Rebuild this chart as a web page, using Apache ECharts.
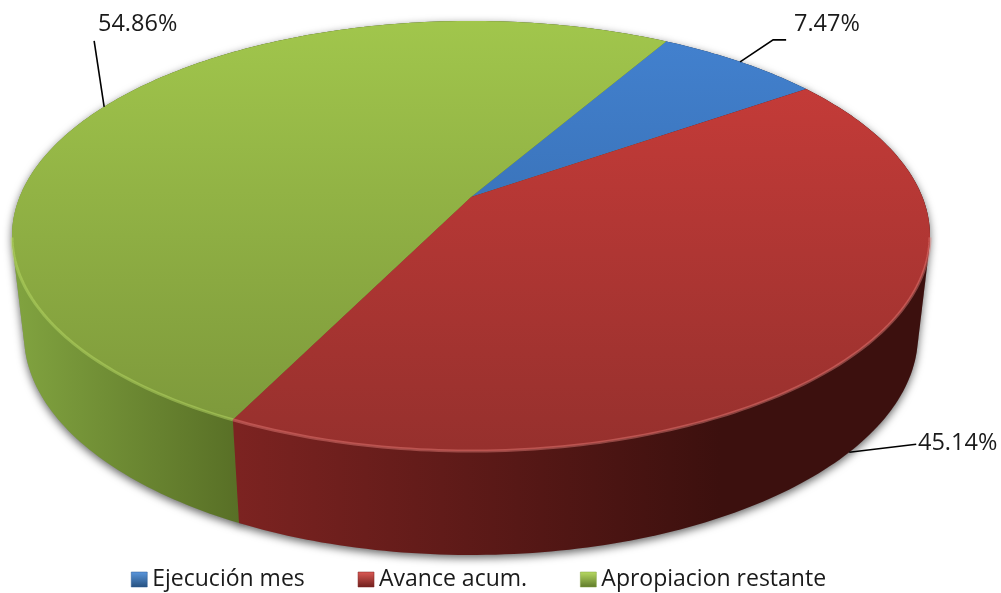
<!DOCTYPE html>
<html>
<head>
<meta charset="utf-8">
<style>
  html, body { margin: 0; padding: 0; background: #fff; }
  #pie-chart { width: 1001px; height: 593px; }
</style>
</head>
<body>
<div id="pie-chart"></div>
<script src="https://cdn.jsdelivr.net/npm/echarts@6/dist/echarts.min.js"></script>
<script>
const categories = ['Ejecución mes', 'Avance acum.', 'Apropiacion restante'];
const values = [7.47, 45.14, 54.86];

const FONT = '"Open Sans", sans-serif';
const START_DEG = 30.0;
// tilted disc: the top face and the foot of the wall are two ellipses
const topRim = { cx: 471, cy: 236, rx: 459, ry: 215 };
const footRim = { cx: 471, cy: 335, rx: 447, ry: 220 };
const TILT = 0.181; // how far the pie centre sits above the ellipse centre

const styles = [
  { top: ['#4382d0', '#2f619f'], side: ['#2b5a94', '#1d3e66'], rim: '#7fb0e8', icon: ['#5b97dd', '#25507f'] },
  { top: ['#cc3d3a', '#96302d'], side: ['#7c2321', '#3c100e'], rim: '#e8807c', icon: ['#dc5a55', '#6f1f1d'] },
  { top: ['#a1c64c', '#7b963a'], side: ['#80a23f', '#586f26'], rim: '#bfe06a', icon: ['#b7da62', '#5f7a2a'] }
];
// leader line: which rim it starts on, its elbow offsets, the text spot
const labels = [
  { rim: topRim, path: [[33, -22], [46, -22]], x: 794, y: 24 },
  { rim: footRim, path: [[67, -8]], x: 918, y: 443 },
  { rim: topRim, path: [[-10, -66]], x: 98, y: 24 }
];

const total = values.reduce((a, b) => a + b, 0);

function project(rim, deg) {
  const t = deg * Math.PI / 180;
  const u = Math.sin(t), v = -Math.cos(t);
  const w = 1 - TILT * v;
  return [
    rim.cx + rim.rx * u * Math.sqrt(1 - TILT * TILT) / w,
    rim.cy + rim.ry * (v - TILT) / w
  ];
}

function arc(rim, from, to) {
  const pts = [];
  const n = Math.ceil(to - from);
  for (let i = 0; i <= n; i++) pts.push(project(rim, from + (to - from) * i / n));
  return pts;
}

// outline of a slice's solid, so the wall follows the straight silhouette
function hull(points) {
  const pts = points.slice().sort((a, b) => a[0] - b[0] || a[1] - b[1]);
  const cross = (o, a, b) => (a[0] - o[0]) * (b[1] - o[1]) - (a[1] - o[1]) * (b[0] - o[0]);
  const half = list => {
    const out = [];
    list.forEach(p => {
      while (out.length > 1 && cross(out[out.length - 2], out[out.length - 1], p) <= 0) out.pop();
      out.push(p);
    });
    out.pop();
    return out;
  };
  return half(pts).concat(half(pts.slice().reverse()));
}

function gradient(x, y, x2, y2, colors, global) {
  return {
    type: 'linear', x, y, x2, y2, global,
    colorStops: [{ offset: 0, color: colors[0] }, { offset: 1, color: colors[1] }]
  };
}

function sliceRange(idx) {
  let from = START_DEG;
  for (let i = 0; i < idx; i++) from += values[i] / total * 360;
  return [from, from + values[idx] / total * 360];
}

function renderSlice(idx) {
  const [from, to] = sliceRange(idx);
  const s = styles[idx];
  const label = labels[idx];
  const rimTop = arc(topRim, from, to);
  const rimFoot = arc(footRim, from, to);
  const apex = [topRim.cx, topRim.cy - topRim.ry * TILT];
  const outline = hull(rimTop.concat(rimFoot, [apex]));
  const front = rimTop.filter(p => p[1] > topRim.cy);

  const anchor = project(label.rim, (from + to) / 2);
  const leader = [anchor].concat(label.path.map(o => [anchor[0] + o[0], anchor[1] + o[1]]));

  const children = [
    {
      type: 'polygon', z2: 0, silent: true,
      shape: { points: outline },
      style: { fill: '#888', shadowColor: 'rgba(0,0,0,0.6)', shadowBlur: 9, shadowOffsetY: 3 }
    },
    {
      // red wall sits above the green one, they meet on the front seam
      type: 'polygon', z2: idx === 1 ? 2 : 1, silent: true,
      shape: { points: outline },
      style: {
        fill: idx === 2 ? gradient(20, 0, 240, 0, s.side, true) : gradient(238, 0, 720, 0, s.side, true)
      }
    },
    {
      type: 'polygon', z2: 5, silent: true,
      shape: { points: [apex].concat(rimTop) },
      style: { fill: gradient(0, 21, 0, 451, s.top, true) }
    },
    {
      type: 'polyline', z2: 7, silent: true,
      shape: { points: leader },
      style: { fill: null, stroke: '#000', lineWidth: 1.6 }
    },
    {
      type: 'text', z2: 8, silent: true,
      style: {
        text: values[idx].toFixed(2) + '%', x: label.x, y: label.y,
        fill: '#1a1a1a', font: '23.5px ' + FONT,
        textAlign: 'left', textVerticalAlign: 'middle'
      }
    }
  ];
  if (front.length > 1) {
    children.push({
      type: 'polyline', z2: 6, silent: true,
      shape: { points: front },
      style: { fill: null, stroke: s.rim, lineWidth: 3, opacity: 0.45 }
    });
  }
  return { type: 'group', children };
}

const chart = echarts.init(document.getElementById('pie-chart'), null, { renderer: 'canvas' });
chart.setOption({
  animation: false,
  backgroundColor: '#fff',
  legend: {
    left: 126, top: 563, itemWidth: 16, itemHeight: 15, itemGap: 53,
    selectedMode: false,
    textStyle: { fontFamily: FONT, fontSize: 23, color: '#1a1a1a' },
    data: categories.map((name, i) => ({
      name, icon: 'rect',
      itemStyle: {
        color: gradient(0, 0, 0, 1, styles[i].icon, false),
        borderColor: styles[i].side[0], borderWidth: 0.5
      }
    }))
  },
  series: categories.map((name, i) => ({
    type: 'custom',
    name,
    coordinateSystem: 'none',
    itemStyle: { color: styles[i].top[0] },
    data: [values[i]],
    renderItem: () => renderSlice(i)
  }))
});
</script>
</body>
</html>
